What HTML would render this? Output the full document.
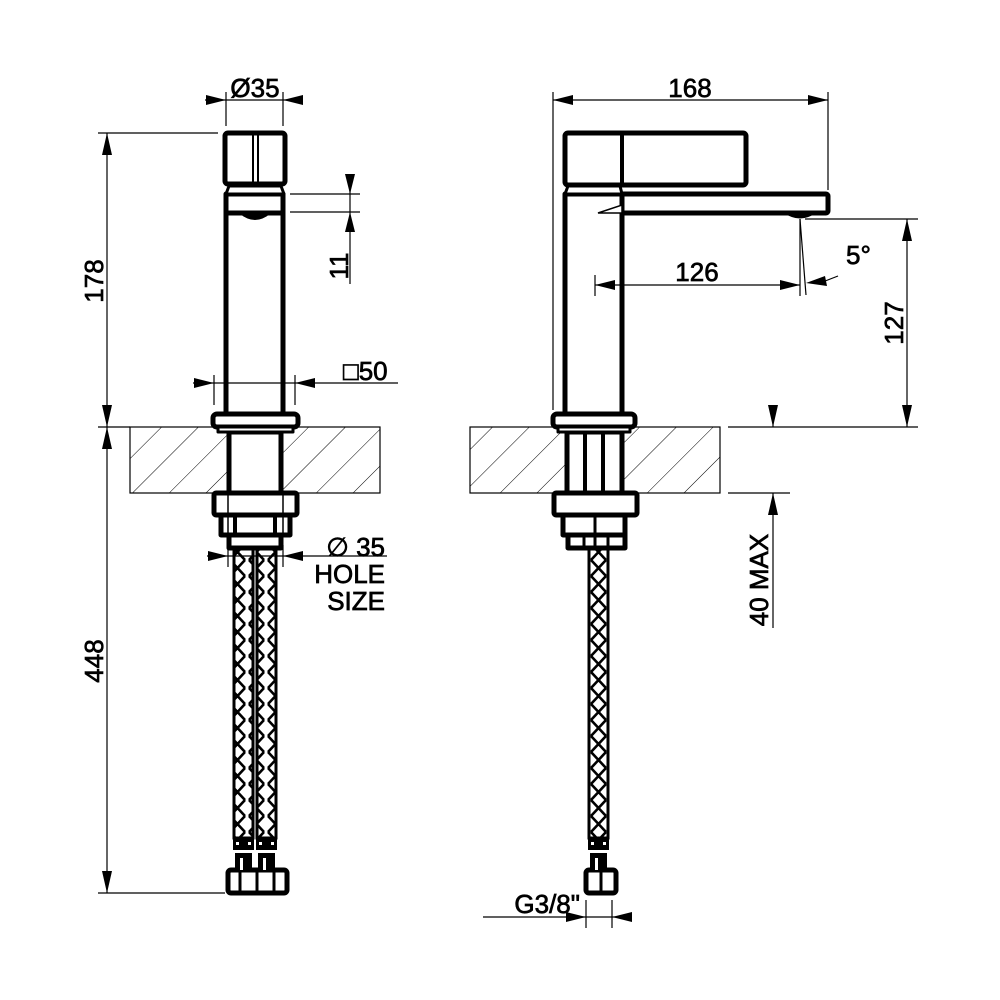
<!DOCTYPE html>
<html><head><meta charset="utf-8"><style>
html,body{margin:0;padding:0;background:#fff}
svg{display:block}
text{font-family:"Liberation Sans",Arial,sans-serif;fill:#000;stroke:#000;stroke-width:0.7}
</style></head><body>
<svg width="1000" height="1000" viewBox="0 0 1000 1000" xmlns="http://www.w3.org/2000/svg">
<defs>
<pattern id="hatch" patternUnits="userSpaceOnUse" width="26" height="26" patternTransform="rotate(45)">
<line x1="0" y1="0" x2="0" y2="26" stroke="#000" stroke-width="1"/>
</pattern>
<pattern id="braid2" patternUnits="userSpaceOnUse" width="19" height="16">
<path d="M2 0 L17 16 M17 0 L2 16" stroke="#000" stroke-width="2.6" fill="none"/>
</pattern>
</defs>

<rect x="130" y="427" width="250" height="66" fill="url(#hatch)" stroke="#000" stroke-width="1.2"/>
<rect x="470" y="427" width="250" height="66" fill="url(#hatch)" stroke="#000" stroke-width="1.2"/>

<g fill="#fff" stroke="#000" stroke-width="5" stroke-linejoin="round">
<rect x="229" y="432" width="52" height="61" fill="#fff"/>
<rect x="226" y="194" width="57" height="221"/>
<rect x="225" y="133" width="60" height="51" rx="3"/>
<path d="M229 186 L281 186 L284 194 L226 194 Z" stroke-width="3"/>
<rect x="213" y="414" width="85" height="13" rx="4"/>
<rect x="218" y="427" width="75" height="5" stroke-width="3"/>
<rect x="214" y="493" width="83" height="22" rx="2"/>
<rect x="221" y="515" width="69" height="20"/>
<rect x="229" y="535" width="52" height="13"/>
<rect x="228" y="870" width="59" height="23" rx="3"/>
<rect x="567" y="432" width="55" height="61"/>
<rect x="595" y="194" width="233" height="19" rx="2"/>
<rect x="565" y="194" width="57" height="221"/>
<rect x="565" y="133" width="181" height="52" rx="3"/>
<path d="M568 186 L620 186 L622 194 L565 194 Z" stroke-width="3"/>
<rect x="553" y="414" width="82" height="13" rx="4"/>
<rect x="558" y="427" width="72" height="5" stroke-width="3"/>
<rect x="554" y="493" width="83" height="22" rx="2"/>
<rect x="563" y="515" width="62" height="20"/>
<rect x="568" y="535" width="57" height="13"/>
<rect x="586" y="870" width="30" height="23" rx="3"/>
</g>
<g stroke="#000" fill="none">
<line x1="253" y1="135" x2="253" y2="183" stroke-width="2"/>
<line x1="258" y1="135" x2="258" y2="183" stroke-width="2"/>
<line x1="226" y1="213" x2="283" y2="213" stroke-width="5"/>
<line x1="229" y1="432" x2="229" y2="493" stroke-width="5"/>
<line x1="281" y1="432" x2="281" y2="493" stroke-width="5"/>
<line x1="228" y1="495" x2="228" y2="535" stroke-width="1.5"/>
<line x1="283" y1="495" x2="283" y2="535" stroke-width="1.5"/>
<line x1="235" y1="515" x2="235" y2="535" stroke-width="4"/>
<line x1="275" y1="515" x2="275" y2="535" stroke-width="4"/>
<line x1="240" y1="870" x2="240" y2="893" stroke-width="3"/>
<line x1="257" y1="870" x2="257" y2="893" stroke-width="3"/>
<line x1="274" y1="870" x2="274" y2="893" stroke-width="3"/>
<line x1="622" y1="133" x2="622" y2="185" stroke-width="4"/>
<line x1="585" y1="432" x2="585" y2="493" stroke-width="4"/>
<line x1="603" y1="432" x2="603" y2="493" stroke-width="4"/>
<line x1="595" y1="515" x2="595" y2="548" stroke-width="3"/>
<line x1="584" y1="535" x2="584" y2="548" stroke-width="3"/>
<line x1="608" y1="535" x2="608" y2="548" stroke-width="3"/>
<line x1="601" y1="870" x2="601" y2="893" stroke-width="3"/>
</g>
<path d="M240 214 Q255 226 270 214 Z" fill="#000"/>
<path d="M784 213 Q800 224 816 213 Z" fill="#000"/>
<path d="M598 213 L622 205 L622 213 Z" fill="#fff" stroke="#000" stroke-width="1.5"/>

<g stroke="#000" stroke-width="3">
<rect x="234" y="548" width="19" height="290" fill="url(#braid2)"/>
<rect x="257" y="548" width="19" height="290" fill="url(#braid2)"/>
<rect x="589" y="548" width="19" height="290" fill="url(#braid2)"/>
</g>
<g fill="#000">
<rect x="233" y="838" width="21" height="12"/><rect x="256" y="838" width="21" height="12"/>
<rect x="235" y="853" width="17" height="17"/><rect x="258" y="853" width="17" height="17"/>
<rect x="588" y="838" width="21" height="12"/><rect x="590" y="853" width="17" height="17"/>
</g>
<g fill="#fff"><rect x="240" y="858" width="3" height="12"/><rect x="263" y="858" width="3" height="12"/><rect x="595" y="858" width="3" height="12"/>
<rect x="236" y="842" width="3" height="3"/><rect x="248" y="842" width="3" height="3"/><rect x="259" y="842" width="3" height="3"/><rect x="271" y="842" width="3" height="3"/>
<rect x="591" y="842" width="3" height="3"/><rect x="603" y="842" width="3" height="3"/></g>

<g stroke="#000" stroke-width="1.2" fill="none">
<line x1="205" y1="100" x2="303" y2="100"/>
<line x1="226" y1="92" x2="226" y2="126"/><line x1="283" y1="92" x2="283" y2="126"/>
<line x1="98" y1="133" x2="218" y2="133"/>
<line x1="107" y1="133" x2="107" y2="893"/>
<line x1="98" y1="427" x2="130" y2="427"/>
<line x1="98" y1="893" x2="225" y2="893"/>
<line x1="290" y1="194" x2="360" y2="194"/><line x1="290" y1="212" x2="360" y2="212"/>
<line x1="350" y1="174" x2="350" y2="284"/>
<line x1="193" y1="383" x2="398" y2="383"/>
<line x1="214" y1="375" x2="214" y2="405"/><line x1="295" y1="375" x2="295" y2="405"/>
<line x1="207" y1="556" x2="387" y2="556"/>
<line x1="228" y1="545" x2="228" y2="567"/><line x1="283" y1="545" x2="283" y2="567"/>
<line x1="553" y1="100" x2="828" y2="100"/>
<line x1="553" y1="92" x2="553" y2="410"/><line x1="828" y1="92" x2="828" y2="190"/>
<line x1="595" y1="285" x2="800" y2="285"/>
<line x1="595" y1="275" x2="595" y2="296"/>
<line x1="800" y1="219" x2="800" y2="296"/>
<line x1="800" y1="219" x2="806" y2="295"/>
<line x1="820" y1="283" x2="838" y2="276"/>
<line x1="805" y1="219" x2="918" y2="219"/>
<line x1="907" y1="219" x2="907" y2="427"/>
<line x1="728" y1="427" x2="918" y2="427"/>
<line x1="728" y1="493" x2="790" y2="493"/>
<line x1="773" y1="405" x2="773" y2="427"/>
<line x1="773" y1="493" x2="773" y2="628"/>
<line x1="483" y1="917" x2="632" y2="917"/>
<line x1="586" y1="900" x2="586" y2="928"/><line x1="612" y1="900" x2="612" y2="928"/>
</g>
<g fill="#000">
<polygon points="226,100 206,95 206,105"/><polygon points="283,100 303,95 303,105"/>
<polygon points="107,133 102,155 112,155"/><polygon points="107,427 102,405 112,405"/>
<polygon points="107,427 102,449 112,449"/><polygon points="107,893 102,871 112,871"/>
<polygon points="350,194 345,174 355,174"/><polygon points="350,212 345,232 355,232"/>
<polygon points="214,383 194,378 194,388"/><polygon points="295,383 315,378 315,388"/>
<polygon points="228,556 208,551 208,561"/><polygon points="283,556 303,551 303,561"/>
<polygon points="553,100 573,95 573,105"/><polygon points="828,100 808,95 808,105"/>
<polygon points="595,285 615,280 615,290"/><polygon points="800,285 780,280 780,290"/>
<polygon points="806,283 825,276 827,286"/>
<polygon points="907,219 902,241 912,241"/><polygon points="907,427 902,405 912,405"/>
<polygon points="773,427 768,405 778,405"/><polygon points="773,493 768,515 778,515"/>
<polygon points="586,917 566,912 566,922"/><polygon points="612,917 632,912 632,922"/>
</g>

<g font-size="26">
<text x="255" y="97" text-anchor="middle">Ø35</text>
<text x="690" y="97" text-anchor="middle">168</text>
<text x="697" y="281" text-anchor="middle">126</text>
<text x="846" y="264">5°</text>
<text x="343" y="380">□50</text>
<text x="385" y="556" text-anchor="end">∅ 35</text>
<text x="385" y="583" text-anchor="end">HOLE</text>
<text x="385" y="610" text-anchor="end">SIZE</text>
<text x="580" y="913" text-anchor="end">G3/8"</text>
<text transform="translate(103,281) rotate(-90)" text-anchor="middle">178</text>
<text transform="translate(103,661) rotate(-90)" text-anchor="middle">448</text>
<text transform="translate(348,266) rotate(-90)" text-anchor="middle">11</text>
<text transform="translate(903,323) rotate(-90)" text-anchor="middle">127</text>
<text transform="translate(768,580) rotate(-90)" text-anchor="middle">40 MAX</text>
</g>
</svg>
</body></html>
